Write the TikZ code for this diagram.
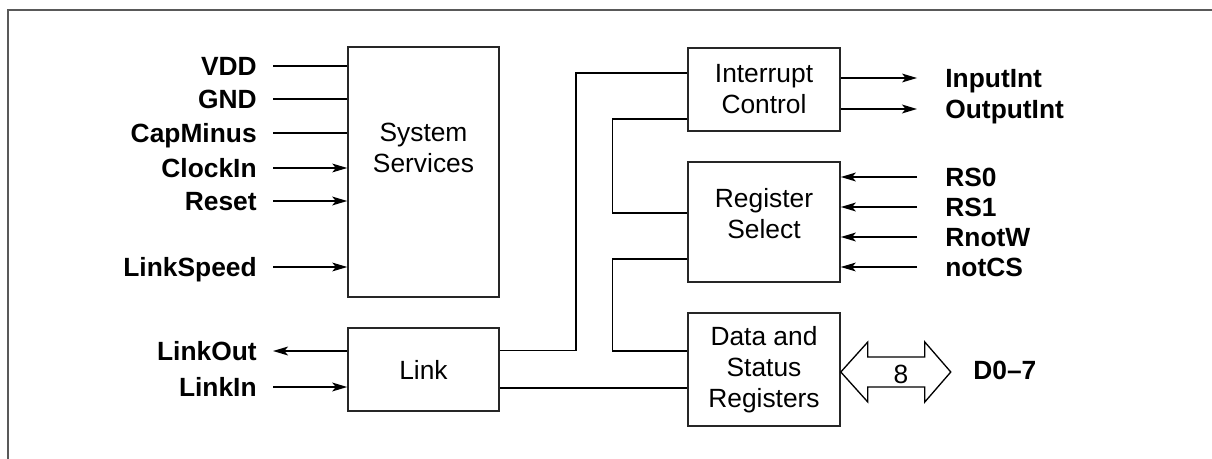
\documentclass[tikz,border=0pt]{standalone}
\usepackage{fontspec}
\setmainfont{Liberation Sans}
\usetikzlibrary{arrows.meta,positioning,calc}

\begin{document}
\begin{tikzpicture}[x=0.02cm,y=-0.02cm,
  font=\fontsize{15pt}{17.6pt}\selectfont,
  >={Stealth[length=8.5pt,width=5pt,inset=2pt]},
  blk/.style={draw=black!85,line width=0.9pt,inner sep=0pt,align=center},
  lbl/.style={font=\fontsize{15pt}{17.6pt}\selectfont\bfseries,inner sep=0pt,text height=0.38cm,text depth=0pt},
  sig/.style={line width=0.6pt},
  sigb/.style={line width=1.1pt}]
\useasboundingbox (0,0) rectangle (1212,459);
\draw[black!65,line width=0.8pt] (8,459) -- (8,10) -- (1212,10);

\node[blk,name=sys,minimum width=3.02cm,minimum height=5cm,
  label={[align=center,yshift=0.49cm]center:{System\\Services}}] at (423.5,172) {};
\node[blk,name=link,minimum width=3.02cm,minimum height=1.66cm] at (423.5,369.5) {Link};

\node[blk,name=ic,minimum width=3.04cm,minimum height=1.66cm] at (764,89.5) {Interrupt\\Control};
\node[blk,name=rs,minimum width=3.04cm,minimum height=2.4cm,
  label={[align=center,yshift=0.16cm]center:{Register\\Select}}] at (764,222) {};
\node[blk,name=dsr,minimum width=3.04cm,minimum height=2.26cm] at (764,369.5) {Data and\\Status\\Registers};

\node[lbl,anchor=east,name=vdd] at (257,66) {VDD};
\node[lbl,anchor=east,name=gnd] at (257,99) {GND};
\node[lbl,anchor=east,name=capm] at (257,133) {CapMinus};
\node[lbl,anchor=east,name=clk] at (257,168) {ClockIn};
\node[lbl,anchor=east,name=rst] at (257,201) {Reset};
\node[lbl,anchor=east,name=lspd] at (257,267) {LinkSpeed};
\node[lbl,anchor=east,name=lout] at (257,351) {LinkOut};
\node[lbl,anchor=east,name=lin] at (257,387) {LinkIn};

\draw[sigb] ([xshift=0.32cm]vdd.east) -- (vdd -| sys.west);
\draw[sigb] ([xshift=0.32cm]gnd.east) -- (gnd -| sys.west);
\draw[sigb] ([xshift=0.32cm]capm.east) -- (capm -| sys.west);
\draw[sig,->] ([xshift=0.32cm]clk.east) -- (clk -| sys.west);
\draw[sigb,->] ([xshift=0.32cm]rst.east) -- (rst -| sys.west);
\draw[sig,->] ([xshift=0.32cm]lspd.east) -- (lspd -| sys.west);
\draw[sigb,<-] ([xshift=0.32cm]lout.east) -- (lout -| link.west);
\draw[sigb,->] ([xshift=0.32cm]lin.east) -- (lin -| link.west);

\node[lbl,anchor=west,name=inint] at (945,78) {InputInt};
\node[lbl,anchor=west,name=outint] at (945,109) {OutputInt};
\node[lbl,anchor=west,name=rsz] at (945,177) {RS0};
\node[lbl,anchor=west,name=rso] at (945,207) {RS1};
\node[lbl,anchor=west,name=rnw] at (945,237) {RnotW};
\node[lbl,anchor=west,name=ncs] at (945,267) {notCS};

\draw[sig,->] (inint -| ic.east) -- ([xshift=-0.56cm]inint.west);
\draw[sigb,->] (outint -| ic.east) -- ([xshift=-0.56cm]outint.west);
\draw[sigb,->] ([xshift=-0.56cm]rsz.west) -- (rsz -| rs.east);
\draw[sigb,->] ([xshift=-0.56cm]rso.west) -- (rso -| rs.east);
\draw[sigb,->] ([xshift=-0.56cm]rnw.west) -- (rnw -| rs.east);
\draw[sig,->] ([xshift=-0.56cm]ncs.west) -- (ncs -| rs.east);

\draw[sigb] ([yshift=0.38cm]link.east) -- ++(76,0) |- ([yshift=0.33cm]ic.west);
\draw[sig] ([yshift=-0.59cm]ic.west) -- ++(-75,0) |- ([yshift=0.18cm]rs.west);
\draw[sig] ([yshift=-0.74cm]rs.west) -- ++(-75,0) |- ([yshift=0.37cm]dsr.west);
\draw[sig] ([yshift=-0.37cm]link.east) -- ([yshift=-0.37cm]dsr.west);

\draw[line width=0.75pt,line join=miter] ([yshift=-0.05cm]dsr.east) -- ++(27,-30) -- ++(0,15) -- ++(57,0) -- ++(0,-15)
  -- ++(26,30) -- ++(-26,30) -- ++(0,-15) -- ++(-57,0) -- ++(0,15) -- cycle;
\node[inner sep=0pt,text height=0.38cm,text depth=0pt,name=bw] at (901,374) {8};
\node[lbl,anchor=west,name=dbus] at (973,370) {D0--7};
\end{tikzpicture}
\end{document}
